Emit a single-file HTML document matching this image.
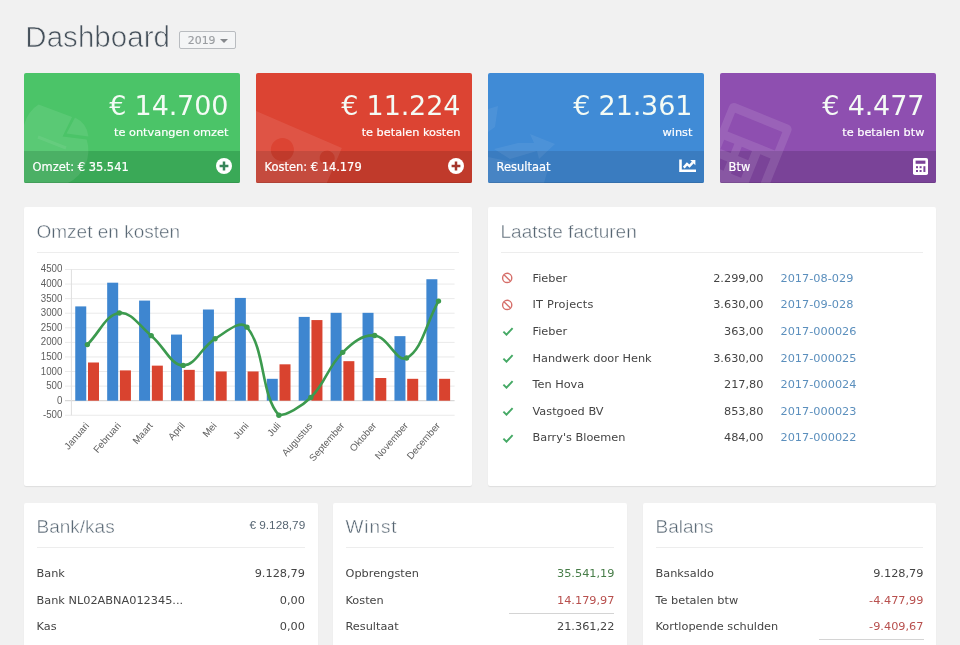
<!DOCTYPE html>
<html lang="nl">
<head>
<meta charset="utf-8">
<title>Dashboard</title>
<style>
*{box-sizing:border-box;margin:0;padding:0}
html,body{width:960px;height:645px;overflow:hidden}
body{background:#f1f1f1;font-family:"DejaVu Sans","Liberation Sans",sans-serif;font-size:11.3px;color:#444;position:relative}
.abs{position:absolute}
h1{position:absolute;left:25.3px;top:18.8px;font-family:"Liberation Sans",sans-serif;font-weight:400;font-size:29.5px;line-height:36px;color:#46515b;letter-spacing:0.05px;white-space:nowrap;-webkit-text-stroke:0.7px #f1f1f1}
.year{position:absolute;left:179px;top:31px;width:57px;height:17.5px;border:1px solid #b9bcc0;border-radius:2px;background:#f4f5f6;color:#9a9da1;font-size:10.9px;line-height:17.3px;padding-left:7.8px;-webkit-text-stroke:0.15px #9a9da1;white-space:nowrap}
.year i{position:absolute;left:39.7px;top:6.6px;width:0;height:0;border-left:4px solid transparent;border-right:4px solid transparent;border-top:4.2px solid #85888c}
.card{position:absolute;top:73px;width:216px;height:110px;border-radius:2px;overflow:hidden;color:#fff}
.card:after{content:"";position:absolute;left:0;right:0;bottom:0;height:1px;background:rgba(0,0,0,.1)}
.card .num{position:absolute;right:11.8px;top:15px;font-size:27px;line-height:36px;letter-spacing:-0.15px;white-space:nowrap;color:#f4fbf5}
.card .sub{position:absolute;right:11.6px;top:53.3px;font-size:11.3px;-webkit-text-stroke:0.2px #fff;line-height:14px;white-space:nowrap}
.card .foot span{position:relative;z-index:2}
.card .num,.card .sub{z-index:2}
.card svg.ic{z-index:2}
.card .foot{position:absolute;left:0;right:0;bottom:0;height:32px;padding-left:8.6px;line-height:33.8px;font-size:11.45px;-webkit-text-stroke:0.2px #fff;white-space:nowrap}
.card svg.ic{position:absolute}
.card svg.wm{position:absolute;left:0;top:0}
.g{left:24px;background:#4bc468}.g .foot{background:#3aa957}
.r{left:256px;background:#dc4433}.r .foot{background:#c03a2b}
.b{left:488px;background:#408bd6}.b .foot{background:#3a7cc0}
.p{left:720px;background:#8e4fb0}.p .foot{background:#7a4398}
.panel{position:absolute;background:#fff;border-radius:2px;box-shadow:0 1px 1px rgba(0,0,0,.08)}
.panel h2{position:absolute;left:12.5px;top:12.3px;-webkit-text-stroke:0.45px #fff;font-family:"Liberation Sans",sans-serif;font-weight:400;font-size:19px;line-height:26px;color:#566572;white-space:nowrap}
.panel h2.lo{top:11.6px}
.panel .hr{position:absolute;left:13px;right:13px;top:44.5px;height:1px;background:#ededed}
.panel .amt{position:absolute;right:12.3px;top:12.8px;font-family:"Liberation Sans",sans-serif;font-size:11.8px;line-height:20px;color:#566572;white-space:nowrap}
.row{position:absolute;left:12.5px;right:12.5px;height:26.5px;line-height:26.5px;white-space:nowrap}
.row .v{position:absolute;right:0;top:0}
.row .n{position:absolute;left:32px;top:0}
.row .a{position:absolute;right:160px;top:0}
.row .l{position:absolute;left:280px;top:0;color:#5b8fbd}
.row svg{position:absolute;left:0;top:5.3px}
.green{color:#477d48}.red{color:#b8504e}
.ul{position:absolute;height:1px;background:#d4d4d4}
svg.chart{position:absolute;left:0;top:45px}
.yl{font-family:"Liberation Sans",sans-serif;font-size:10.8px;fill:#5e5e5e}
.xl{font-family:"Liberation Sans",sans-serif;font-size:9.75px;fill:#606060}
</style>
</head>
<body>
<h1>Dashboard</h1>
<div class="year">2019<i></i></div>

<div class="card g">
<div class="num">€ 14.700</div><div class="sub">te ontvangen omzet</div>
<div class="foot"><span>Omzet: € 35.541</span></div>
<svg class="wm" width="216" height="110" viewBox="0 0 216 110"><g fill="#fff" fill-opacity="0.085"><path d="M14.6 31.6L48.1 44 38.6 63.6 62.7 66.6A36 36 0 0 1 44 110L0 110 0 52Q4 38 14.6 31.6Z"/><path d="M42.5 60.5L51 44.5A24 24 0 0 1 64.5 63.5Z"/></g><path d="M14 64l28 11" stroke="#fff" stroke-opacity="0.07" stroke-width="3" fill="none"/></svg>

<svg class="ic" style="left:192px;top:85px" width="16" height="16" viewBox="0 0 16 16"><circle cx="8" cy="8" r="8" fill="#fff"/><path d="M3.6 8h8.8M8 3.6v8.8" stroke="#37855a" stroke-width="2.5"/></svg>
</div>

<div class="card r">
<div class="num">€ 11.224</div><div class="sub">te betalen kosten</div>
<div class="foot"><span>Kosten: € 14.179</span></div>
<svg class="wm" width="216" height="110" viewBox="0 0 216 110"><g transform="translate(-6 35.5) rotate(23.3)" fill="#fff" fill-opacity="0.09"><path fill-rule="evenodd" d="M0 0H100V70H0Z M57.5 25a11.5 11.5 0 1 0 -23 0a11.5 11.5 0 1 0 23 0Z M98 15a7.5 7.5 0 1 0 -15 0a7.5 7.5 0 1 0 15 0Z"/></g></svg>

<svg class="ic" style="left:192px;top:85px" width="16" height="16" viewBox="0 0 16 16"><circle cx="8" cy="8" r="8" fill="#fff"/><path d="M3.6 8h8.8M8 3.6v8.8" stroke="#a5352b" stroke-width="2.5"/></svg>
</div>

<div class="card b">
<div class="num">€ 21.361</div><div class="sub">winst</div>
<div class="foot"><span>Resultaat</span></div>
<svg class="wm" width="216" height="110" viewBox="0 0 216 110"><g fill="#fff" fill-opacity="0.065"><path d="M0 36L10 33 7 54 0 59Z"/><path d="M42 61L67 71 51 86 49 78 22 86 6 76 30 70 46 70Z"/><path d="M0 84L60 96 56 110 0 110Z"/></g></svg>

<svg class="ic" style="left:191.2px;top:86.1px" width="18" height="14" viewBox="0 0 18 14"><path d="M0.2 0.5h2.6v10h14.2v2.6H0.2z" fill="#fff"/><path d="M4.8 8.6l3.2-3.7 2.5 2.2 3.4-3.7" fill="none" stroke="#fff" stroke-width="2.5"/><path d="M11.2 1h5.2v5.2z" fill="#fff"/></svg>
</div>

<div class="card p">
<div class="num">€ 4.477</div><div class="sub">te betalen btw</div>
<div class="foot"><span>Btw</span></div>
<svg class="wm" width="216" height="110" viewBox="0 0 216 110"><g transform="translate(11 28.5) rotate(22)" fill="#fff" fill-opacity="0.11"><path fill-rule="evenodd" d="M5 0H62a5 5 0 0 1 5 5V100H0V5a5 5 0 0 1 5-5Z M8 9V29H59V9Z M8 38V48H19V38Z M27 38V48H38V38Z M47 38V70H58V38Z M8 57V67H19V57Z M27 57V67H38V57Z"/></g></svg>

<svg class="ic" style="left:192.8px;top:85px" width="15" height="17" viewBox="0 0 15 17"><rect x="0" y="0" width="15" height="17" rx="1.8" fill="#fff"/><rect x="2.6" y="2.6" width="9.8" height="3.2" fill="#7a4398"/><rect x="3" y="8.2" width="2" height="2" fill="#7a4398"/><rect x="6.6" y="8.2" width="2" height="2" fill="#7a4398"/><rect x="3" y="12" width="2" height="2" fill="#7a4398"/><rect x="6.6" y="12" width="2" height="2" fill="#7a4398"/><rect x="10.4" y="8.2" width="2" height="5.8" fill="#7a4398"/></svg>
</div>

<div class="panel" style="left:24px;top:207px;width:448px;height:279px">
<h2>Omzet en kosten</h2><div class="hr"></div>
<svg class="chart" width="448" height="235" viewBox="24 252 448 235">
<line x1="65" y1="415.28" x2="454.6" y2="415.28" stroke="#eaeaea" stroke-width="1"/>
<text text-anchor="end" class="yl" transform="translate(62.4 418.28) scale(0.9 1)">-500</text>
<line x1="65" y1="400.70" x2="454.6" y2="400.70" stroke="#cfcfcf" stroke-width="1"/>
<text text-anchor="end" class="yl" transform="translate(62.4 403.70) scale(0.9 1)">0</text>
<line x1="65" y1="386.12" x2="454.6" y2="386.12" stroke="#eaeaea" stroke-width="1"/>
<text text-anchor="end" class="yl" transform="translate(62.4 389.12) scale(0.9 1)">500</text>
<line x1="65" y1="371.54" x2="454.6" y2="371.54" stroke="#eaeaea" stroke-width="1"/>
<text text-anchor="end" class="yl" transform="translate(62.4 374.54) scale(0.9 1)">1000</text>
<line x1="65" y1="356.96" x2="454.6" y2="356.96" stroke="#eaeaea" stroke-width="1"/>
<text text-anchor="end" class="yl" transform="translate(62.4 359.96) scale(0.9 1)">1500</text>
<line x1="65" y1="342.38" x2="454.6" y2="342.38" stroke="#eaeaea" stroke-width="1"/>
<text text-anchor="end" class="yl" transform="translate(62.4 345.38) scale(0.9 1)">2000</text>
<line x1="65" y1="327.80" x2="454.6" y2="327.80" stroke="#eaeaea" stroke-width="1"/>
<text text-anchor="end" class="yl" transform="translate(62.4 330.80) scale(0.9 1)">2500</text>
<line x1="65" y1="313.22" x2="454.6" y2="313.22" stroke="#eaeaea" stroke-width="1"/>
<text text-anchor="end" class="yl" transform="translate(62.4 316.22) scale(0.9 1)">3000</text>
<line x1="65" y1="298.64" x2="454.6" y2="298.64" stroke="#eaeaea" stroke-width="1"/>
<text text-anchor="end" class="yl" transform="translate(62.4 301.64) scale(0.9 1)">3500</text>
<line x1="65" y1="284.06" x2="454.6" y2="284.06" stroke="#eaeaea" stroke-width="1"/>
<text text-anchor="end" class="yl" transform="translate(62.4 287.06) scale(0.9 1)">4000</text>
<line x1="65" y1="269.48" x2="454.6" y2="269.48" stroke="#eaeaea" stroke-width="1"/>
<text text-anchor="end" class="yl" transform="translate(62.4 272.48) scale(0.9 1)">4500</text>
<line x1="71.4" y1="269.5" x2="71.4" y2="415.3" stroke="#dedede" stroke-width="1"/>
<rect x="75.25" y="306.40" width="11.0" height="94.30" fill="#3e86d0"/>
<rect x="88.00" y="362.50" width="11.0" height="38.20" fill="#d9432f"/>
<rect x="107.17" y="282.69" width="11.0" height="118.01" fill="#3e86d0"/>
<rect x="119.92" y="370.39" width="11.0" height="30.31" fill="#d9432f"/>
<rect x="139.09" y="300.59" width="11.0" height="100.11" fill="#3e86d0"/>
<rect x="151.84" y="365.64" width="11.0" height="35.06" fill="#d9432f"/>
<rect x="171.01" y="334.57" width="11.0" height="66.13" fill="#3e86d0"/>
<rect x="183.76" y="369.86" width="11.0" height="30.84" fill="#d9432f"/>
<rect x="202.93" y="309.51" width="11.0" height="91.19" fill="#3e86d0"/>
<rect x="215.68" y="371.45" width="11.0" height="29.25" fill="#d9432f"/>
<rect x="234.85" y="297.92" width="11.0" height="102.78" fill="#3e86d0"/>
<rect x="247.60" y="371.45" width="11.0" height="29.25" fill="#d9432f"/>
<rect x="266.77" y="378.81" width="11.0" height="21.89" fill="#3e86d0"/>
<rect x="279.52" y="364.32" width="11.0" height="36.38" fill="#d9432f"/>
<rect x="298.69" y="316.90" width="11.0" height="83.80" fill="#3e86d0"/>
<rect x="311.44" y="320.07" width="11.0" height="80.63" fill="#d9432f"/>
<rect x="330.61" y="312.83" width="11.0" height="87.87" fill="#3e86d0"/>
<rect x="343.36" y="361.18" width="11.0" height="39.52" fill="#d9432f"/>
<rect x="362.53" y="312.83" width="11.0" height="87.87" fill="#3e86d0"/>
<rect x="375.28" y="378.02" width="11.0" height="22.68" fill="#d9432f"/>
<rect x="394.45" y="336.15" width="11.0" height="64.55" fill="#3e86d0"/>
<rect x="407.20" y="378.81" width="11.0" height="21.89" fill="#d9432f"/>
<rect x="426.37" y="279.23" width="11.0" height="121.47" fill="#3e86d0"/>
<rect x="439.12" y="378.81" width="11.0" height="21.89" fill="#d9432f"/>
<path d="M87.36,344.60 C100.13,331.96 105.63,314.92 119.28,313.00 C131.17,311.34 139.13,325.74 151.20,335.65 C164.66,346.70 170.04,364.77 183.12,365.40 C195.58,366.01 200.98,347.18 215.04,338.76 C226.52,331.89 240.16,319.04 246.96,327.17 C265.70,349.61 260.50,394.94 278.88,415.19 C286.04,415.37 300.65,407.52 310.80,397.53 C326.19,382.38 327.27,367.36 342.72,352.35 C352.80,342.55 362.38,334.41 374.64,335.51 C387.91,336.69 397.00,363.19 406.56,358.04 C422.53,349.44 425.71,323.89 438.48,301.12" fill="none" stroke="#3c9a4e" stroke-width="2.6" stroke-linejoin="round" stroke-linecap="round"/>
<circle cx="87.36" cy="344.60" r="2.7" fill="#3c9a4e"/>
<circle cx="119.28" cy="313.00" r="2.7" fill="#3c9a4e"/>
<circle cx="151.20" cy="335.65" r="2.7" fill="#3c9a4e"/>
<circle cx="183.12" cy="365.40" r="2.7" fill="#3c9a4e"/>
<circle cx="215.04" cy="338.76" r="2.7" fill="#3c9a4e"/>
<circle cx="246.96" cy="327.17" r="2.7" fill="#3c9a4e"/>
<circle cx="278.88" cy="415.19" r="2.7" fill="#3c9a4e"/>
<circle cx="310.80" cy="397.53" r="2.7" fill="#3c9a4e"/>
<circle cx="342.72" cy="352.35" r="2.7" fill="#3c9a4e"/>
<circle cx="374.64" cy="335.51" r="2.7" fill="#3c9a4e"/>
<circle cx="406.56" cy="358.04" r="2.7" fill="#3c9a4e"/>
<circle cx="438.48" cy="301.12" r="2.7" fill="#3c9a4e"/>
<text x="89.56" y="426.0" text-anchor="end" class="xl" transform="rotate(-49 89.56 426.0)">Januari</text>
<text x="121.48" y="426.0" text-anchor="end" class="xl" transform="rotate(-49 121.48 426.0)">Februari</text>
<text x="153.40" y="426.0" text-anchor="end" class="xl" transform="rotate(-49 153.40 426.0)">Maart</text>
<text x="185.32" y="426.0" text-anchor="end" class="xl" transform="rotate(-49 185.32 426.0)">April</text>
<text x="217.24" y="426.0" text-anchor="end" class="xl" transform="rotate(-49 217.24 426.0)">Mei</text>
<text x="249.16" y="426.0" text-anchor="end" class="xl" transform="rotate(-49 249.16 426.0)">Juni</text>
<text x="281.08" y="426.0" text-anchor="end" class="xl" transform="rotate(-49 281.08 426.0)">Juli</text>
<text x="313.00" y="426.0" text-anchor="end" class="xl" transform="rotate(-49 313.00 426.0)">Augustus</text>
<text x="344.92" y="426.0" text-anchor="end" class="xl" transform="rotate(-49 344.92 426.0)">September</text>
<text x="376.84" y="426.0" text-anchor="end" class="xl" transform="rotate(-49 376.84 426.0)">Oktober</text>
<text x="408.76" y="426.0" text-anchor="end" class="xl" transform="rotate(-49 408.76 426.0)">November</text>
<text x="440.68" y="426.0" text-anchor="end" class="xl" transform="rotate(-49 440.68 426.0)">December</text>
</svg>
</div>

<div class="panel" style="left:488px;top:207px;width:448px;height:279px">
<h2>Laatste facturen</h2><div class="hr"></div>
<div class="row" style="top:58.7px"><svg width="12" height="13" viewBox="0 0 12 13"><circle cx="6.2" cy="6.9" r="4.6" fill="none" stroke="#d66f6a" stroke-width="1.4"/><path d="M3 3.7l6.4 6.4" stroke="#d66f6a" stroke-width="1.4"/></svg><span class="n">Fieber</span><span class="a">2.299,00</span><span class="l">2017-08-029</span></div>
<div class="row" style="top:85.30000000000001px"><svg width="12" height="13" viewBox="0 0 12 13"><circle cx="6.2" cy="6.9" r="4.6" fill="none" stroke="#d66f6a" stroke-width="1.4"/><path d="M3 3.7l6.4 6.4" stroke="#d66f6a" stroke-width="1.4"/></svg><span class="n"><span style="letter-spacing:.25px">IT Projects</span></span><span class="a">3.630,00</span><span class="l">2017-09-028</span></div>
<div class="row" style="top:111.9px"><svg width="13" height="12" viewBox="0 0 13 12"><path d="M2.4 7.6l3.1 3.1L11.6 4.1" fill="none" stroke="#45a965" stroke-width="1.9"/></svg><span class="n">Fieber</span><span class="a">363,00</span><span class="l">2017-000026</span></div>
<div class="row" style="top:138.5px"><svg width="13" height="12" viewBox="0 0 13 12"><path d="M2.4 7.6l3.1 3.1L11.6 4.1" fill="none" stroke="#45a965" stroke-width="1.9"/></svg><span class="n">Handwerk door Henk</span><span class="a">3.630,00</span><span class="l">2017-000025</span></div>
<div class="row" style="top:165.10000000000002px"><svg width="13" height="12" viewBox="0 0 13 12"><path d="M2.4 7.6l3.1 3.1L11.6 4.1" fill="none" stroke="#45a965" stroke-width="1.9"/></svg><span class="n">Ten Hova</span><span class="a">217,80</span><span class="l">2017-000024</span></div>
<div class="row" style="top:191.7px"><svg width="13" height="12" viewBox="0 0 13 12"><path d="M2.4 7.6l3.1 3.1L11.6 4.1" fill="none" stroke="#45a965" stroke-width="1.9"/></svg><span class="n">Vastgoed BV</span><span class="a">853,80</span><span class="l">2017-000023</span></div>
<div class="row" style="top:218.3px"><svg width="13" height="12" viewBox="0 0 13 12"><path d="M2.4 7.6l3.1 3.1L11.6 4.1" fill="none" stroke="#45a965" stroke-width="1.9"/></svg><span class="n">Barry's Bloemen</span><span class="a">484,00</span><span class="l">2017-000022</span></div>

</div>

<div class="panel" style="left:24px;top:502.5px;width:293.5px;height:160px">
<h2 class="lo">Bank/kas</h2><div class="amt">€ 9.128,79</div><div class="hr"></div>
<div class="row" style="top:58.6px">Bank<span class="v">9.128,79</span></div>
<div class="row" style="top:85.1px">Bank NL02ABNA012345...<span class="v">0,00</span></div>
<div class="row" style="top:111.6px">Kas<span class="v">0,00</span></div>
</div>

<div class="panel" style="left:333px;top:502.5px;width:294px;height:160px">
<h2 class="lo" style="letter-spacing:.9px">Winst</h2><div class="hr"></div>
<div class="row" style="top:58.6px">Opbrengsten<span class="v green">35.541,19</span></div>
<div class="row" style="top:85.1px">Kosten<span class="v red">14.179,97</span></div>
<div class="ul" style="left:176px;width:105px;top:110px"></div>
<div class="row" style="top:111.6px">Resultaat<span class="v">21.361,22</span></div>
</div>

<div class="panel" style="left:643px;top:502.5px;width:293px;height:160px">
<h2 class="lo">Balans</h2><div class="hr"></div>
<div class="row" style="top:58.6px">Banksaldo<span class="v">9.128,79</span></div>
<div class="row" style="top:85.1px">Te betalen btw<span class="v red">-4.477,99</span></div>
<div class="row" style="top:111.6px">Kortlopende schulden<span class="v red">-9.409,67</span></div>
<div class="ul" style="left:176px;width:104.5px;top:136.5px"></div>
</div>
</body>
</html>
